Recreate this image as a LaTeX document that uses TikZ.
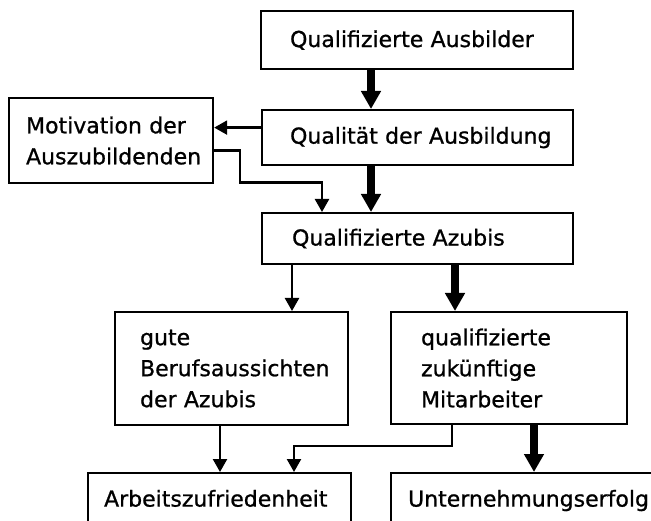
\documentclass[tikz,border=0pt]{standalone}
\usepackage{fontspec}
\setmainfont{DejaVu Sans}[FakeBold=0.9]
\usepackage{tikz}
\usetikzlibrary{arrows.meta}
\usetikzlibrary{calc}
\tikzset{kasten/.style={draw, line width=2.2pt, anchor=north west, align=left,
    inner ysep=0pt, font=\fontsize{22}{31}\selectfont}}
\tikzset{duenn/.style={line width=2.3pt, -{Triangle[width=14pt,length=13pt]}}}
\tikzset{dick/.style={line width=7.5pt, -{Triangle[width=19pt,length=18pt]}}}

\begin{document}
\begin{tikzpicture}[x=1pt,y=-1pt]
        \useasboundingbox (0,0) rectangle (651,521);
        \clip (0,0) rectangle (651,521);

        \node[kasten, text width=254pt, inner xsep=29pt, minimum height=58pt]
            (ausbilder) at (260,10) {Qualifizierte Ausbilder};
        \node[kasten, text width=255pt, inner xsep=28pt, minimum height=55pt]
            (qualitaet) at (261,109) {\mbox{Qualität der Ausbildung}};
        \node[kasten, text width=170pt, inner xsep=17pt, minimum height=85pt]
            (motivation) at (8,97) {Motivation der\\Auszubildenden};
        \node[kasten, text width=251pt, inner xsep=30pt, minimum height=51pt]
            (azubis) at (261,212) {Qualifizierte Azubis};
        \node[kasten, text width=183pt, inner xsep=25pt, minimum height=113pt]
            (aussichten) at (114,311) {gute\\Berufsaussichten\\der Azubis};
        \node[kasten, text width=176pt, inner xsep=30pt, minimum height=112pt]
            (mitarbeiter) at (390,311) {qualifizierte\\zukünftige\\Mitarbeiter};
        \node[kasten, text width=231pt, inner xsep=16pt, minimum height=56pt,
            text height=16pt, text depth=5pt]
            (zufrieden) at (87,472) {Arbeitszufriedenheit};
        \node[kasten, text width=256pt, inner xsep=17pt, minimum height=56pt,
            text height=16pt, text depth=5pt]
            (erfolg) at (390,472) {Unternehmungserfolg};

        % Verbindungen
        \draw[dick] ([xshift=111pt]ausbilder.south west)
            -- ([xshift=111pt]ausbilder.south west |- qualitaet.north);
        \draw[duenn] ([yshift=10pt]qualitaet.west)
            -- ([yshift=10pt]qualitaet.west -| motivation.east);
        \draw[dick] ([xshift=110pt]qualitaet.south west)
            -- ([xshift=110pt]qualitaet.south west |- azubis.north);
        \draw[duenn] ([yshift=-10pt]motivation.east) -- ++(26,0) -- ++(0,32)
            -| ([xshift=61pt]azubis.north west);
        \draw[duenn] ([xshift=31pt]azubis.south west)
            -- ([xshift=31pt]azubis.south west |- aussichten.north);
        \draw[dick] ([xshift=194pt]azubis.south west)
            -- ([xshift=194pt]azubis.south west |- mitarbeiter.north);
        \draw[duenn] ([xshift=106pt]aussichten.south west)
            -- ([xshift=106pt]aussichten.south west |- zufrieden.north);
        \draw[duenn] ([xshift=62pt]mitarbeiter.south west) -- ++(0,21)
            -| ([xshift=207pt]zufrieden.north west);
        \draw[dick] ([xshift=144pt]mitarbeiter.south west)
            -- ([xshift=144pt]mitarbeiter.south west |- erfolg.north);
    \end{tikzpicture}
\end{document}
